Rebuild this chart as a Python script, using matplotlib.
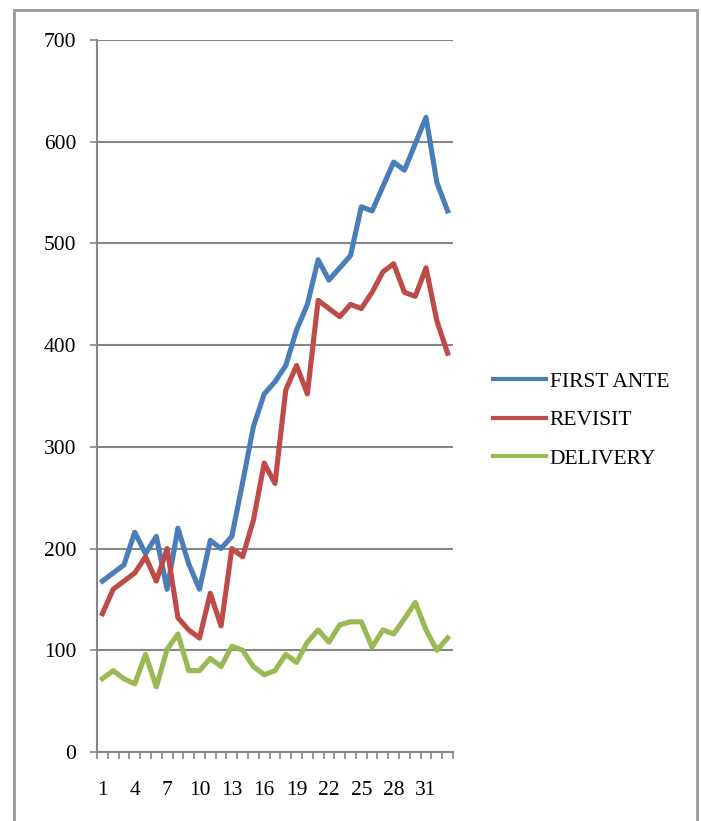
import matplotlib
matplotlib.use("Agg")
import matplotlib.pyplot as plt
from matplotlib.patches import Rectangle
from matplotlib.ticker import FixedLocator

# data (33 periods)
periods = list(range(1, 34))
first_ante = [168, 176, 184, 216, 195, 212, 160, 220, 185, 160, 208, 200, 212, 265, 320, 352, 364,
              380, 415, 440, 484, 464, 476, 488, 536, 532, 556, 580, 572, 598, 624, 560, 532]
revisit = [136, 160, 168, 176, 192, 168, 200, 132, 120, 112, 156, 124, 200, 192, 228, 284, 264,
           356, 380, 352, 444, 436, 428, 440, 436, 452, 472, 480, 452, 448, 476, 424, 392]
delivery = [72, 80, 72, 67, 96, 64, 101, 116, 80, 80, 92, 84, 104, 100, 84, 76, 80,
            96, 88, 108, 120, 108, 125, 128, 128, 103, 120, 116, 131, 147, 120, 100, 112]
x_labels = [1, 4, 7, 10, 13, 16, 19, 22, 25, 28, 31]
y_ticks = [0, 100, 200, 300, 400, 500, 600, 700]

plt.rcParams['font.family'] = ['Liberation Serif', 'DejaVu Serif']

fig = plt.figure(figsize=(7.01, 8.21), dpi=100)
ax = fig.add_axes([97 / 701, 69 / 821, 356 / 701, 712 / 821])

grey = '#868686'
lw = 3.7
ax.plot(periods, first_ante, color='#4A7EBB', lw=lw, label='FIRST ANTE', solid_joinstyle='round')
ax.plot(periods, revisit, color='#BE4B48', lw=lw, label='REVISIT', solid_joinstyle='round')
ax.plot(periods, delivery, color='#98B954', lw=lw, label='DELIVERY', solid_joinstyle='round')

fs = 15.5
ax.set_xlim(0.5, 33.5)
ax.set_ylim(0, 700)
ax.set_yticks(y_ticks)
ax.set_xticks(x_labels)
ax.xaxis.set_minor_locator(FixedLocator([i + 0.5 for i in range(0, 34)]))
ax.tick_params(axis='x', which='major', length=0, pad=21, labelsize=fs)
ax.tick_params(axis='x', which='minor', length=5, width=1.2, color=grey, direction='out')
ax.tick_params(axis='y', length=5, width=1.2, color=grey, pad=10, labelsize=fs)

ax.grid(axis='y', color=grey, lw=1.5)
ax.set_axisbelow(True)
for s in ['top', 'right']:
    ax.spines[s].set_visible(False)
for s in ['left', 'bottom']:
    ax.spines[s].set_color(grey)
    ax.spines[s].set_linewidth(1.5)

leg = ax.legend(loc='center left', bbox_to_anchor=(1.112, 0.466), frameon=False, fontsize=fs,
                borderaxespad=0, borderpad=0,
                handlelength=2.45, handletextpad=0.2, labelspacing=0.85)
for h in leg.get_lines():
    h.set_linewidth(3)

# outer border
fig.patches.append(Rectangle((14 / 701, -0.02), 683 / 701, 1.0 - 10 / 821 + 0.02,
                             transform=fig.transFigure, fill=False, edgecolor='#999999', lw=2))

fig.savefig('out.png', dpi=100)
